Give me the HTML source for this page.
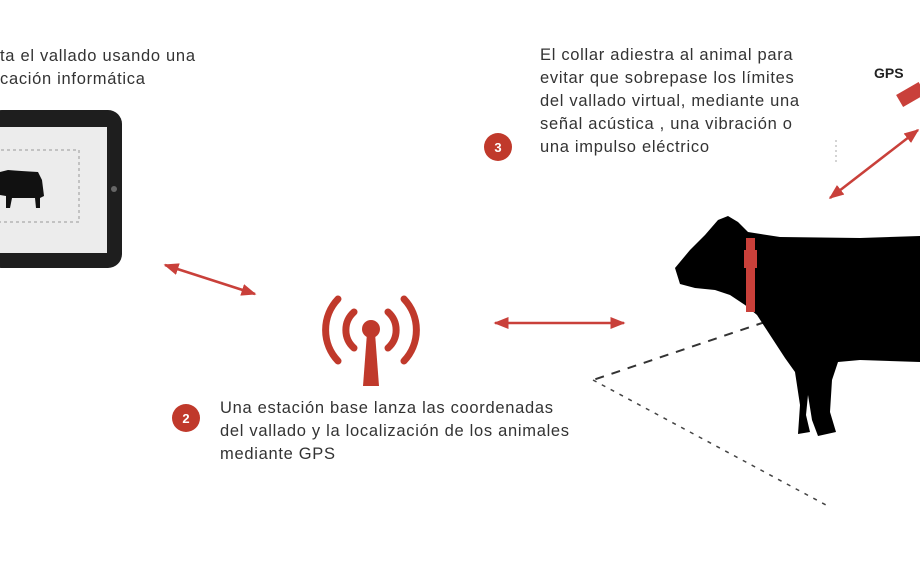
<!DOCTYPE html>
<html><head><meta charset="utf-8"><style>
body{margin:0;width:920px;height:575px;background:#fff;overflow:hidden;position:relative;font-family:"Liberation Sans",sans-serif;color:#333}
.t{position:absolute;font-size:16.5px;letter-spacing:0.7px;line-height:23px;white-space:nowrap}
</style></head><body>
<svg width="920" height="575" style="position:absolute;left:0;top:0">
<defs>
<marker id="a" viewBox="0 0 10 10" refX="9" refY="5" markerWidth="6" markerHeight="6" orient="auto-start-reverse"><path d="M0,1 L10,5 L0,9 z" fill="#c9403a"/></marker>
</defs>
<!-- tablet -->
<rect x="-12" y="110" width="134" height="158" rx="14" fill="#1e1e1e"/>
<rect x="0" y="127" width="107" height="126" fill="#ececec"/>
<rect x="-5" y="150" width="84" height="72" fill="none" stroke="#999" stroke-dasharray="3,3"/>
<circle cx="114" cy="189" r="3" fill="#666"/>
<path d="M0,172 L8,170 Q20,171 38,172 L42,180 L44,196 L40,198 L40,208 L36,208 L35,198 L12,198 L10,208 L6,208 L6,196 L0,195 z" fill="#111"/>
<!-- arrows -->
<g stroke="#c9403a" stroke-width="2.5" fill="none">
<line x1="165" y1="265" x2="255" y2="294" marker-start="url(#a)" marker-end="url(#a)"/>
<line x1="495" y1="323" x2="624" y2="323" marker-start="url(#a)" marker-end="url(#a)"/>
<line x1="830" y1="198" x2="918" y2="130" marker-start="url(#a)" marker-end="url(#a)"/>
</g>
<rect x="898" y="88" width="26" height="14" fill="#c9403a" transform="rotate(-30 910 95)"/>
<!-- antenna -->
<g stroke="#c0392b" stroke-width="7" fill="none" stroke-linecap="round">
<path d="M354,312 A24,24 0 0,0 354,348"/>
<path d="M388,312 A24,24 0 0,1 388,348"/>
<path d="M338,299 A45,45 0 0,0 338,361"/>
<path d="M404,299 A45,45 0 0,1 404,361"/>
</g>
<circle cx="371" cy="329" r="9" fill="#c0392b"/>
<path d="M367,333 L375,333 L379,386 L363,386 z" fill="#c0392b"/>
<!-- numbers -->
<circle cx="186" cy="418" r="14" fill="#c0392b"/>
<circle cx="498" cy="147" r="14" fill="#c0392b"/>
<text x="186" y="423" font-size="13" font-weight="bold" fill="#fff" text-anchor="middle" font-family="Liberation Sans">2</text>
<text x="498" y="152" font-size="13" font-weight="bold" fill="#fff" text-anchor="middle" font-family="Liberation Sans">3</text>
<!-- fence -->
<line x1="765" y1="322" x2="593" y2="380" stroke="#333" stroke-width="2" stroke-dasharray="9,8"/>
<line x1="593" y1="380" x2="826" y2="505" stroke="#444" stroke-width="1.5" stroke-dasharray="4,6"/>
<line x1="836" y1="140" x2="836" y2="165" stroke="#aaa" stroke-width="1" stroke-dasharray="2,3"/>
<!-- cow -->
<path d="M675,268 L690,250 L705,235 L718,220 L728,216 L738,222 L748,232 L780,237 L860,238 L920,236 L920,362 L860,360 L838,362 L832,380 L830,412 L836,432 L818,436 L812,420 L808,395 L806,415 L810,432 L798,434 L800,405 L795,372 L785,358 L770,335 L757,315 L745,305 L730,295 L715,290 L695,288 L680,284 z" fill="#000"/>
<rect x="746" y="238" width="9" height="74" fill="#c9403a"/>
<rect x="744" y="250" width="13" height="18" fill="#c9403a"/>
</svg>
<div class="t" style="left:0;top:45px">ta el vallado usando una<br>cación informática</div>
<div class="t" style="left:540px;top:44px">El collar adiestra al animal para<br>evitar que sobrepase los límites<br>del vallado virtual, mediante una<br>señal acústica , una vibración o<br>una impulso eléctrico</div>
<div class="t" style="left:874px;top:62px;font-weight:bold;font-size:14px;letter-spacing:0;color:#222">GPS</div>
<div class="t" style="left:220px;top:397px">Una estación base lanza las coordenadas<br>del vallado y la localización de los animales<br>mediante GPS</div>
</body></html>
